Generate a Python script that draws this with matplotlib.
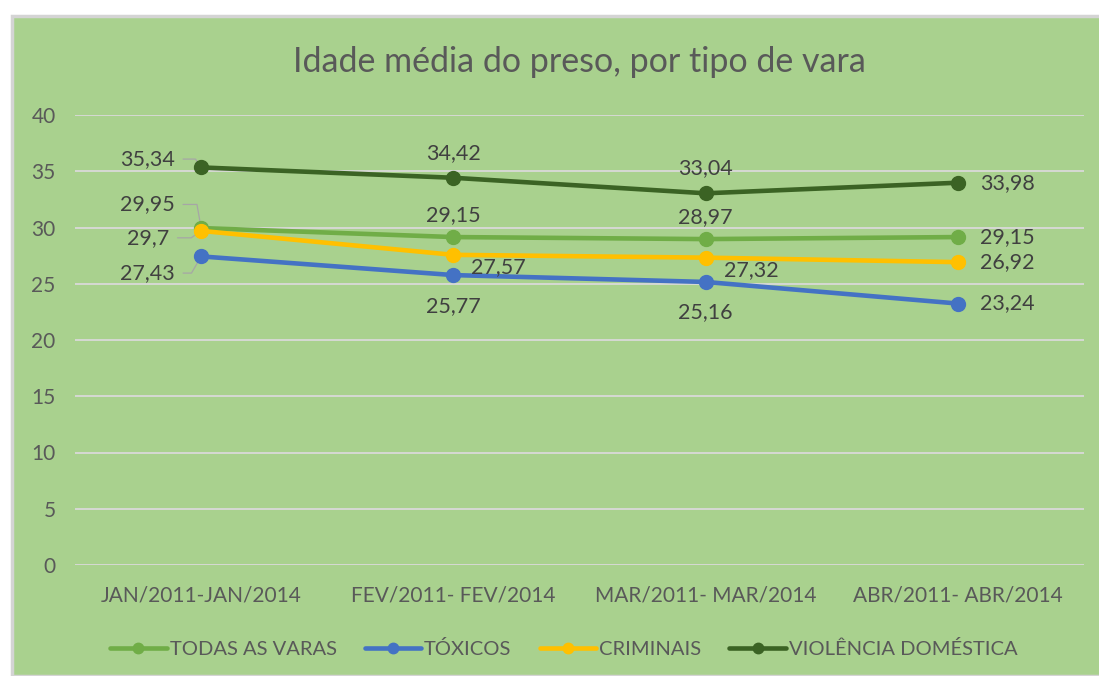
import matplotlib
matplotlib.use("Agg")
import matplotlib.pyplot as plt
from matplotlib.patches import Rectangle

plt.rcParams["font.family"] = ["Lato", "DejaVu Sans"]

# ---- data ----
categories = ["JAN/2011-JAN/2014", "FEV/2011- FEV/2014", "MAR/2011- MAR/2014", "ABR/2011- ABR/2014"]
todas = [29.95, 29.15, 28.97, 29.15]
toxicos = [27.43, 25.77, 25.16, 23.24]
criminais = [29.7, 27.57, 27.32, 26.92]
violencia = [35.34, 34.42, 33.04, 33.98]
series_names = ["TODAS AS VARAS", "TÓXICOS", "CRIMINAIS", "VIOLÊNCIA DOMÉSTICA"]
yticks = [0, 5, 10, 15, 20, 25, 30, 35, 40]

colors = ["#70AD47", "#4472C4", "#FFC000", "#3B6324"]
bg = "#A9D18E"
txt = "#404040"

fig = plt.figure(figsize=(10.99, 6.76), dpi=100, facecolor="white")
fig.patches.append(Rectangle((12 / 1099, 0), 1, (676 - 15.5) / 676, transform=fig.transFigure,
                             facecolor=bg, edgecolor="#D4D4D4", lw=2.5, zorder=-10))

ax = fig.add_axes([75 / 1099, 1 - 565 / 676, 1009 / 1099, 450 / 676])
ax.set_facecolor("none")
x = list(range(len(categories)))

all_series = [todas, toxicos, criminais, violencia]
for vals, name, c in zip(all_series, series_names, colors):
    ax.plot(x, vals, color=c, lw=3.3, marker="o", markersize=10, label=name,
            solid_capstyle="round", zorder=3)

ax.set_xlim(-0.5, 3.5)
ax.set_ylim(0, 40)
ax.set_yticks(yticks)
ax.set_xticks(x)
ax.set_xticklabels(categories)
ax.tick_params(axis="both", length=0, labelsize=15, colors="#595959")
ax.tick_params(axis="x", pad=15)
ax.tick_params(axis="y", pad=14)
ax.grid(axis="y", color="#D9D9D9", lw=1.3, zorder=1)
for s in ax.spines.values():
    s.set_visible(False)


def fmt(v):
    return ("%g" % v).replace(".", ",")


def lab(vals, i, dx, dy, ha="center"):
    ax.annotate(fmt(vals[i]), (x[i], vals[i]), xytext=(dx, dy), textcoords="offset points",
                ha=ha, va="center", fontsize=15.5, color=txt, zorder=4)


# first category: labels to the left with leader lines
leaders = [(violencia, -19, 6, -56), (todas, -19, 17, -80), (criminais, -23, -5, 35), (toxicos, -19, -12, 60)]
for vals, dx, dy, angb in leaders:
    ax.annotate(fmt(vals[0]), (x[0], vals[0]), xytext=(dx, dy), textcoords="offset points",
                ha="right", va="center", fontsize=15.5, color=txt, zorder=2,
                arrowprops=dict(arrowstyle="-", color="#A6A6A6", lw=0.9, shrinkA=4, shrinkB=0,
                                relpos=(1, 0.5),
                                connectionstyle="angle,angleA=0,angleB=%d,rad=0" % angb))

for i in (1, 2):
    lab(violencia, i, 0, 18)
    lab(todas, i, 0, 16)
    lab(criminais, i, 13, -9, "left")
    lab(toxicos, i, 0, -22)
for vals in all_series:
    lab(vals, 3, 16, 0, "left")

ax.set_title("Idade média do preso, por tipo de vara", fontsize=24.5, color="#595959", pad=31)

fig.legend(loc="center", bbox_to_anchor=(0.513, 1 - 649 / 676), ncol=4, frameon=False,
           fontsize=14.5, labelcolor="#595959", handlelength=2.8, handletextpad=0.15,
           columnspacing=1.4, markerscale=0.75)

fig.savefig("out.png", dpi=100, facecolor=fig.get_facecolor())
